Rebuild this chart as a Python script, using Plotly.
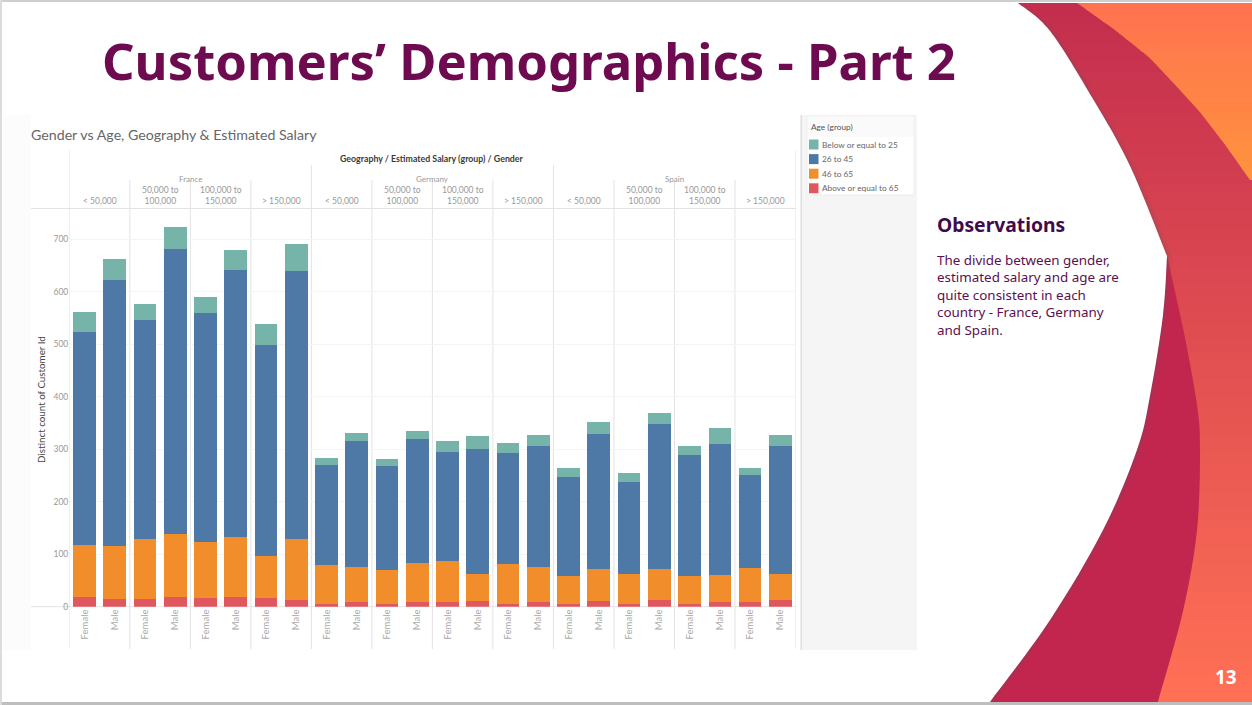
import numpy as np
import plotly.graph_objects as go

W, H = 1252, 705

geographies = ['France', 'Germany', 'Spain']
salary_groups = ['< 50,000', '50,000 to<br>100,000', '100,000 to<br>150,000', '> 150,000']
genders = ['Female', 'Male']
age_groups = ['Below or equal to 25', '26 to 45', '46 to 65', 'Above or equal to 65']

below_25 = [38, 39, 30, 41, 32, 37, 39, 51, 13, 17, 13, 14, 22, 24, 20, 21, 16, 22, 18, 21, 17, 29, 14, 21]
age_26_45 = [406, 507, 417, 544, 435, 509, 403, 511, 192, 239, 198, 237, 206, 239, 211, 230, 190, 259, 175, 278, 231, 251, 177, 244]
age_46_65 = [98, 101, 115, 119, 108, 114, 80, 117, 74, 67, 65, 74, 79, 52, 75, 67, 52, 61, 57, 59, 52, 51, 65, 50]
above_65 = [19, 15, 14, 19, 16, 19, 16, 12, 5, 9, 5, 9, 9, 10, 6, 9, 6, 10, 5, 12, 6, 9, 9, 12]

age_colors = ['#76B4AA', '#4E78A6', '#F28D2C', '#E1575F']
y_ticks = [0, 100, 200, 300, 400, 500, 600, 700]


def px(x):
    return x / W


def py(y):
    return 1 - y / H


def note(x, y, text, size, color, anchor='left', yanchor='middle', family='Lato', **kw):
    # pixel positions on the slide, converted to paper coords
    return dict(x=px(x), y=py(y), xref='paper', yref='paper', text=text, showarrow=False,
                xanchor=anchor, yanchor=yanchor, align=anchor if anchor != 'middle' else 'center',
                font=dict(size=size, color=color, family=family), **kw)


def box(x0, y0, x1, y1, color, line=None):
    return dict(type='rect', xref='paper', yref='paper', x0=px(x0), y0=py(y0), x1=px(x1), y1=py(y1),
                fillcolor=color, line=dict(color=line or color, width=1 if line else 0), layer='below')


def mix(c0, c1, t):
    return 'rgb(%d,%d,%d)' % tuple(round(a + (b - a) * t) for a, b in zip(c0, c1))


def smooth(points):
    # catmull-rom through the points, written as svg curves
    out = ''
    for i in range(len(points) - 1):
        p0 = points[max(i - 1, 0)]
        p1 = points[i]
        p2 = points[i + 1]
        p3 = points[min(i + 2, len(points) - 1)]
        c1 = (p1[0] + (p2[0] - p0[0]) / 6, p1[1] + (p2[1] - p0[1]) / 6)
        c2 = (p2[0] - (p3[0] - p1[0]) / 6, p2[1] - (p3[1] - p1[1]) / 6)
        out += ' C %.4f,%.4f %.4f,%.4f %.4f,%.4f' % (px(c1[0]), py(c1[1]), px(c2[0]), py(c2[1]), px(p2[0]), py(p2[1]))
    return out


def area(start, curves, closing, color, opacity=1, dx=0):
    path = 'M %.4f,%.4f' % (px(start[0] + dx), py(start[1]))
    for c in curves:
        path += smooth([(a + dx, b) for a, b in c])
    for a, b in closing:
        path += ' L %.4f,%.4f' % (px(a), py(b))
    path += ' Z'
    return dict(type='path', xref='paper', yref='paper', path=path, fillcolor=color,
                opacity=opacity, line=dict(width=0), layer='below')


white_upper = [(1018, 3), (1050, 31), (1093, 99), (1130, 166), (1167, 256)]
white_lower = [(1167, 256), (1163, 315), (1150, 396), (1137, 450), (1103, 530), (1050, 620), (990, 702)]
dark_right = [(1167, 256), (1183, 328), (1197, 405), (1200, 450), (1197, 530), (1183, 611), (1158, 702)]
corner_x = [1077, 1115, 1150, 1178, 1200, 1226, 1250]
corner_y = [3, 30, 58, 88, 112, 146, 180]

shapes = []

# red to coral background of the right hand side
for i in range(50):
    y0 = 3 + i * 14
    c = mix((196, 46, 78), (255, 112, 85), i / 49)
    shapes.append(box(1000, y0, W, y0 + 15, c))

# orange corner, cut in thin strips so the colour can run down it
for i in range(30):
    y0 = 3 + i * 5.9
    y1 = min(y0 + 6.9, 180)
    x0 = np.interp(y0, corner_y, corner_x)
    x1 = np.interp(y1, corner_y, corner_x)
    path = 'M %.4f,%.4f L %.4f,%.4f L %.4f,%.4f L %.4f,%.4f Z' % (
        px(x0), py(y0), px(x1), py(y1), px(W), py(y1), px(W), py(y0))
    shapes.append(dict(type='path', xref='paper', yref='paper', path=path, fillcolor=mix((255, 115, 80), (255, 146, 62), i / 29),
                       line=dict(width=0), layer='below'))

# dark band
shapes.append(area(dark_right[0], [dark_right], [(990, 702), (1100, 400)], '#C2264F'))

# white slide area, with soft shadow
shapes.append(area(white_upper[0], [white_upper, white_lower], [(0, 702), (0, 3)], '#555566', 0.10, 5))
shapes.append(area(white_upper[0], [white_upper, white_lower], [(0, 702), (0, 3)], '#555566', 0.12, 2))
shapes.append(area(white_upper[0], [white_upper, white_lower], [(0, 702), (0, 3)], '#FFFFFF'))

# slide border
shapes.append(box(0, 0, W, 2, '#CFCFCF'))
shapes.append(box(0, 702, W, H, '#BEBEBE'))
shapes.append(box(0, 0, 2, H, '#DCDCDC'))

# dashboard panels
shapes.append(box(3, 115, 31, 650, '#FCFCFC'))
shapes.append(box(802, 115, 917, 650, '#F5F5F5'))
shapes.append(box(800.5, 115, 802, 650, '#DEDEDE'))
shapes.append(box(807, 116, 914, 195, '#FFFFFF', '#EDEDED'))
shapes.append(box(808, 117, 913, 137, '#FAFAFA'))

# pane lines, in axis coordinates
line_color = '#E3E3E3'
n_bars = len(below_25)
for k in range(len(geographies) * len(salary_groups) + 1):
    xv = k * 2 - 0.5
    if k == 0 or k == 12:
        top = 150
    elif k % 4 == 0:
        top = 165
    else:
        top = 180
    shapes.append(dict(type='line', xref='x', yref='paper', x0=xv, x1=xv, y0=py(649), y1=py(top),
                       line=dict(color=line_color, width=1), layer='below'))
for yy in (208.5, 606.7):
    shapes.append(dict(type='line', xref='paper', yref='paper', x0=px(31), x1=px(796), y0=py(yy), y1=py(yy),
                       line=dict(color=line_color, width=1), layer='below'))

fig = go.Figure()
x_idx = list(range(n_bars))
stack = [(above_65, 3), (age_46_65, 2), (age_26_45, 1), (below_25, 0)]
for values, i in stack:
    fig.add_trace(go.Bar(x=x_idx, y=values, name=age_groups[i], marker=dict(color=age_colors[i], line=dict(width=0))))

annotations = [
    note(100, 60, '<b>Customers’ Demographics - Part 2</b>', 50.8, '#6E0A50', family='Noto Sans, sans-serif'),
    note(29, 134, 'Gender vs Age, Geography &amp; Estimated Salary', 14.2, '#666666'),
    note(432, 158, '<b>Geography / Estimated Salary (group) / Gender</b>', 8.8, '#3A3A3A', 'center'),
    note(41, 400, 'Distinct count of Customer Id', 9.8, '#444444', 'center', textangle=-90),
    note(809, 127, 'Age (group)', 8.3, '#555555'),
    note(935, 224, '<b>Observations</b>', 19.3, '#3F0B4D', family='Noto Sans, sans-serif'),
    note(935, 295, 'The divide between gender,<br>estimated salary and age are<br>quite consistent in each<br>country - France, Germany<br>and Spain.',
         13.4, '#5A1050', family='Noto Sans, sans-serif'),
    note(1226, 677, '<b>13</b>', 19, '#FFFFFF', 'center', family='Noto Sans, sans-serif'),
]

# header rows, placed on the bar axis
for g, geo in enumerate(geographies):
    annotations.append(dict(x=g * 8 + 3.5, y=py(172.5), xref='x', yref='paper', text=geo, showarrow=False,
                            font=dict(size=8, color='#999999', family='Lato')))
    for s, sal in enumerate(salary_groups):
        annotations.append(dict(x=g * 8 + s * 2 + 0.5, y=py(208), xref='x', yref='paper', text=sal, showarrow=False,
                                yanchor='bottom', font=dict(size=8.5, color='#999999', family='Lato')))

# legend as in the dashboard, swatch right next to the label
for i, name in enumerate(age_groups):
    yy = 144.5 + i * 14.6
    shapes.append(box(809, yy - 5, 818.5, yy + 5, age_colors[i]))
    annotations.append(note(820, yy, name, 8.3, '#666666'))

fig.update_layout(
    width=W, height=H, margin=dict(l=0, r=0, t=0, b=0), autosize=False,
    barmode='stack', bargap=0.25, showlegend=False,
    paper_bgcolor='white', plot_bgcolor='rgba(0,0,0,0)',
    shapes=shapes, annotations=annotations,
    font=dict(family='Lato'),
    xaxis=dict(domain=[px(69.3), px(795.5)], range=[-0.5, 23.5], tickmode='array', tickvals=x_idx,
               ticktext=genders * 12, tickangle=-90, tickfont=dict(size=9.5, color='#AAAAAA'),
               showgrid=False, zeroline=False, ticks='', showline=False, automargin=False),
    yaxis=dict(domain=[py(606.7), py(208.5)], range=[0, (606.7 - 208.5) / 0.5247], tickmode='array',
               tickvals=y_ticks, tickfont=dict(size=8.5, color='#999999'), gridcolor='#F4F4F4', gridwidth=1,
               zeroline=False, ticks='', showline=False, automargin=False),
)

fig.write_html("out.html", config={'displayModeBar': False},
               post_script="document.body.style.margin='0';")
